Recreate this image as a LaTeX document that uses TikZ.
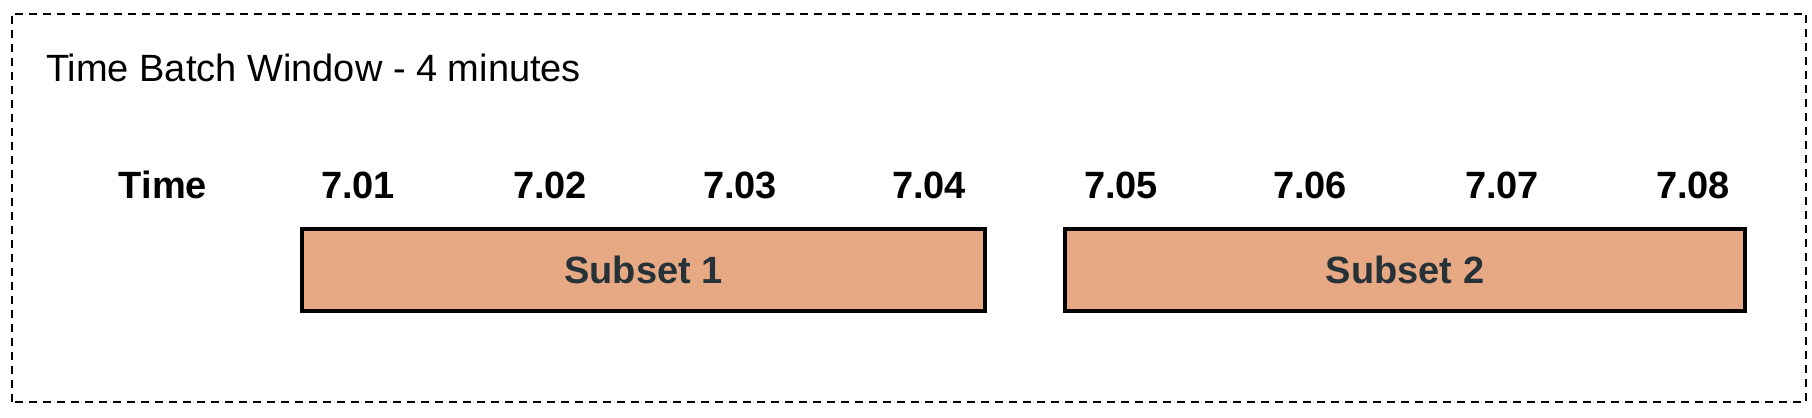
\documentclass[tikz,border=0pt]{standalone}
\usepackage{fontspec}
\setmainfont{Liberation Sans}
\usetikzlibrary{calc}

\definecolor{subsetfill}{HTML}{E6A984}
\definecolor{subsettext}{HTML}{263238}
\tikzset{
	timelabel/.style={anchor=base,font=\fontsize{19}{23}\selectfont\bfseries},
	subsetbox/.style={draw,line width=2pt,fill=subsetfill,text=subsettext,
		font=\fontsize{19}{23}\selectfont\bfseries,minimum height=41pt,inner sep=0pt},
}

\begin{document}
\begin{tikzpicture}[x=0.5pt,y=0.5pt]
		\useasboundingbox (0,0) rectangle (1812,418);
		
		%window outline
		\draw[dash pattern=on 4pt off 3pt,line width=1pt] (11.5,16) rectangle (1806,404);
		\node[anchor=base west,font=\fontsize{19}{23}\selectfont] (title) at (39,336) {Time Batch Window - 4 minutes};
		
		%time row
		\node[timelabel] (time) at (163,219) {Time};
		\node[timelabel] (t1) at (358,219) {7.01};
		\node[timelabel] (t2) at (550,219) {7.02};
		\node[timelabel] (t3) at (740,219) {7.03};
		\node[timelabel] (t4) at (929,219) {7.04};
		\node[timelabel] (t5) at (1121,219) {7.05};
		\node[timelabel] (t6) at (1310,219) {7.06};
		\node[timelabel] (t7) at (1502,219) {7.07};
		\node[timelabel] (t8) at (1693,219) {7.08};
		
		%subsets
		\node[subsetbox,minimum width=341.5pt] (subset1) at (643.5,148) {Subset 1};
		\node[subsetbox,minimum width=340pt] (subset2) at (1405,148) {Subset 2};
\end{tikzpicture}
\end{document}
